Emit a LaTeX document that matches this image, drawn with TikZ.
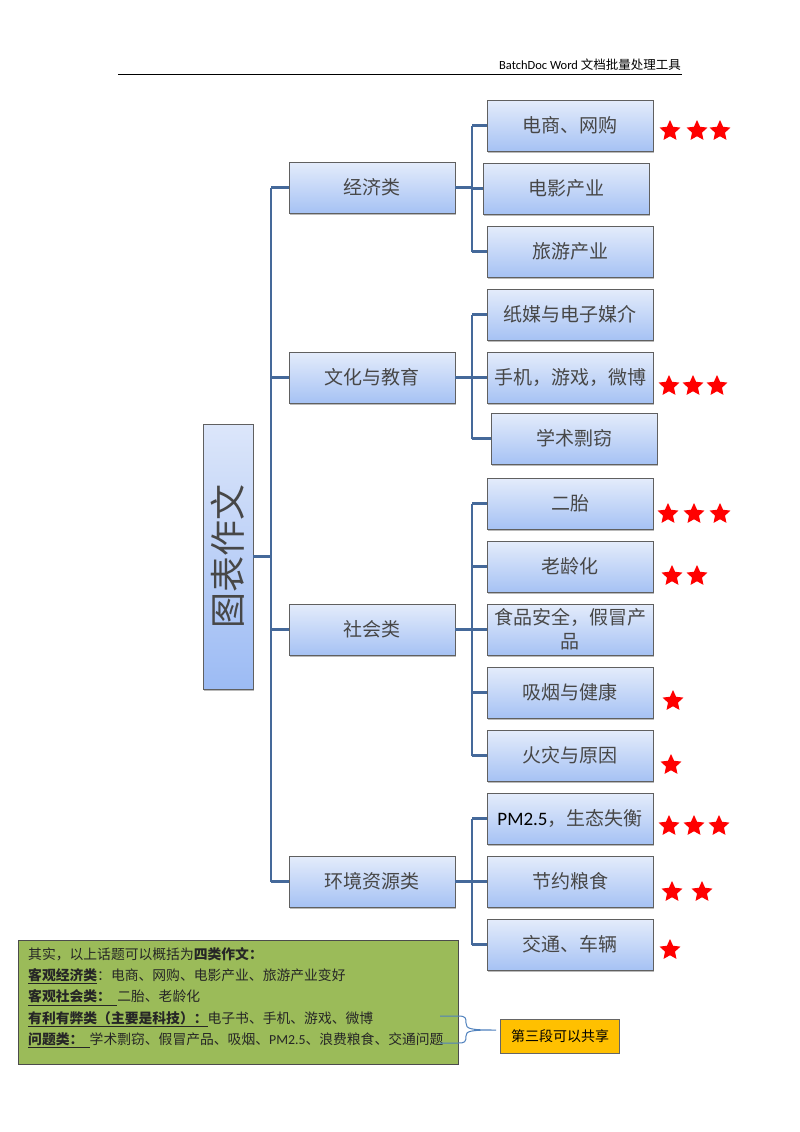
\documentclass[tikz,border=0pt]{standalone}
\usepackage{fontspec}
\setmainfont{Noto Sans CJK SC}
\newfontfamily\carlito{Carlito}
\usetikzlibrary{shapes.geometric,shadows}
\definecolor{boxtop}{HTML}{E4ECFB}
\definecolor{boxbot}{HTML}{A6C2F4}
\definecolor{roottop}{HTML}{DCE6FA}
\definecolor{rootbot}{HTML}{9CBBF4}
\definecolor{linec}{HTML}{45699A}
\definecolor{greenbox}{HTML}{9BBB59}
\definecolor{orangebox}{HTML}{FFC000}
\definecolor{bracec}{HTML}{4F81BD}
\begin{document}
\begin{tikzpicture}[x=1pt,y=-1pt,
  box/.style={draw=gray!75!black, line width=0.6pt, top color=boxtop, bottom color=boxbot,
    minimum width=166pt, minimum height=51pt, inner sep=2pt, align=center,
    font=\fontsize{19}{24}\selectfont, text=black!72,
    drop shadow={shadow xshift=1.2pt, shadow yshift=-1.5pt, fill=black!45, opacity=0.6}},
  link/.style={draw=linec, line width=2.2pt},
  starmark/.style={star, star points=5, star point ratio=2.1, fill=red, draw=none,
    minimum size=22pt, inner sep=0pt}]
\fill[white] (0,0) rectangle (800,1132);
% header
\node[anchor=base east, inner sep=0pt, font=\fontsize{12.5}{14}\selectfont] (hdr) at (681,70) {{\carlito BatchDoc Word} 文档批量处理工具};
\draw[line width=1pt] (118,74) -- (682,74);
% root
\node[box, minimum width=50pt, minimum height=265pt, top color=roottop, bottom color=rootbot] (root) at (228,556.5) {\rotatebox{90}{\fontsize{36}{40}\selectfont 图表作文}};
% level 1
\node[box] (econ) at (372,187.5) {经济类};
\node[box] (cult) at (372,377.5) {文化与教育};
\node[box] (soc)  at (372,629.5) {社会类};
\node[box] (env)  at (372,881.5) {环境资源类};
% economy children
\node[box] (e1) at (570,125.5) {电商、网购};
\node[box] (e2) at (566,188.5) {电影产业};
\node[box] (e3) at (570,251.5) {旅游产业};
% culture children
\node[box] (c1) at (570,314.5) {纸媒与电子媒介};
\node[box] (c2) at (570,377.5) {手机，游戏，微博};
\node[box] (c3) at (574,438.5) {学术剽窃};
% society children
\node[box] (s1) at (570,503.5) {二胎};
\node[box] (s2) at (570,566.5) {老龄化};
\node[box] (s3) at (570,629.5) {食品安全，假冒产\\品};
\node[box] (s4) at (570,692.5) {吸烟与健康};
\node[box] (s5) at (570,755.5) {火灾与原因};
% environment children
\node[box] (v1) at (570,818.5) {{\carlito\color{black}PM2.5}，生态失衡};
\node[box] (v2) at (570,881.5) {节约粮食};
\node[box] (v3) at (570,944.5) {交通、车辆};
% trunks
\coordinate (T) at (271,0);
\coordinate (S) at (472,0);
\draw[link] (root.east) -- (root.east -| T);
\draw[link] (econ.west -| T) -- (env.west -| T);
\foreach \n in {econ,cult,soc,env} \draw[link] (\n.west -| T) -- (\n.west);
\draw[link] (econ.east) -- (econ.east -| S);
\draw[link] (cult.east) -- (cult.east -| S);
\draw[link] (soc.east) -- (soc.east -| S);
\draw[link] (env.east) -- (env.east -| S);
\draw[link] (e1.west -| S) -- (e3.west -| S);
\draw[link] (c1.west -| S) -- (c3.west -| S);
\draw[link] (s1.west -| S) -- (s5.west -| S);
\draw[link] (v1.west -| S) -- (v3.west -| S);
\foreach \n in {e1,e2,e3,c1,c2,c3,s1,s2,s3,s4,s5,v1,v2,v3} \draw[link] (\n.west -| S) -- (\n.west);
% stars
\node[starmark] (ra1) at (670,131) {};
\node[starmark] (ra2) at (697,131) {};
\node[starmark] (ra3) at (720,131) {};
\node[starmark] (rb1) at (669,386) {};
\node[starmark] (rb2) at (693,386) {};
\node[starmark] (rb3) at (717,386) {};
\node[starmark] (rc1) at (668,514) {};
\node[starmark] (rc2) at (694,514) {};
\node[starmark] (rc3) at (720,514) {};
\node[starmark] (rd1) at (672,576) {};
\node[starmark] (rd2) at (697,576) {};
\node[starmark] (re1) at (673,701) {};
\node[starmark] (rf1) at (671,765) {};
\node[starmark] (rg1) at (669,826) {};
\node[starmark] (rg2) at (694,826) {};
\node[starmark] (rg3) at (719,826) {};
\node[starmark] (rh1) at (672,892) {};
\node[starmark] (rh2) at (702,892) {};
\node[starmark] (ri1) at (670,950) {};
% note box
\node[draw=black!70, line width=0.8pt, fill=greenbox, minimum width=440pt, minimum height=124pt, inner sep=0pt, anchor=north west] (note) at (18,940) {};
\node[anchor=north west, align=left, inner sep=0pt, font=\fontsize{13.8}{21.4}\selectfont, text=black!85] (notetext) at (28,947) {%
其实，以上话题可以概括为\textbf{四类作文：}\\
\underline{\textbf{客观经济类}}：电商、网购、电影产业、旅游产业变好\\
\underline{\textbf{客观社会类：\ \ }}二胎、老龄化\\
\underline{\textbf{有利有弊类（主要是科技）：}}电子书、手机、游戏、微博\\
\underline{\textbf{问题类：\ \ }}学术剽窃、假冒产品、吸烟、{\carlito PM2.5}、浪费粮食、交通问题};
% share box
\node[draw=black!60, line width=0.8pt, fill=orangebox, minimum width=119pt, minimum height=34pt, inner sep=0pt, font=\fontsize{14}{16}\selectfont] (share) at (560,1036) {第三段可以共享};
% brace
\coordinate (btip) at (496,1030);
\draw[bracec, line width=1pt] (440,1016) -- (458,1016) .. controls (466,1016) and (466,1018) .. (466,1023) .. controls (466,1029) and (470,1030) .. (btip) .. controls (470,1030) and (466,1031) .. (466,1036) .. controls (466,1042) and (465,1043) .. (458,1043) -- (440,1043);
\end{tikzpicture}
\end{document}
